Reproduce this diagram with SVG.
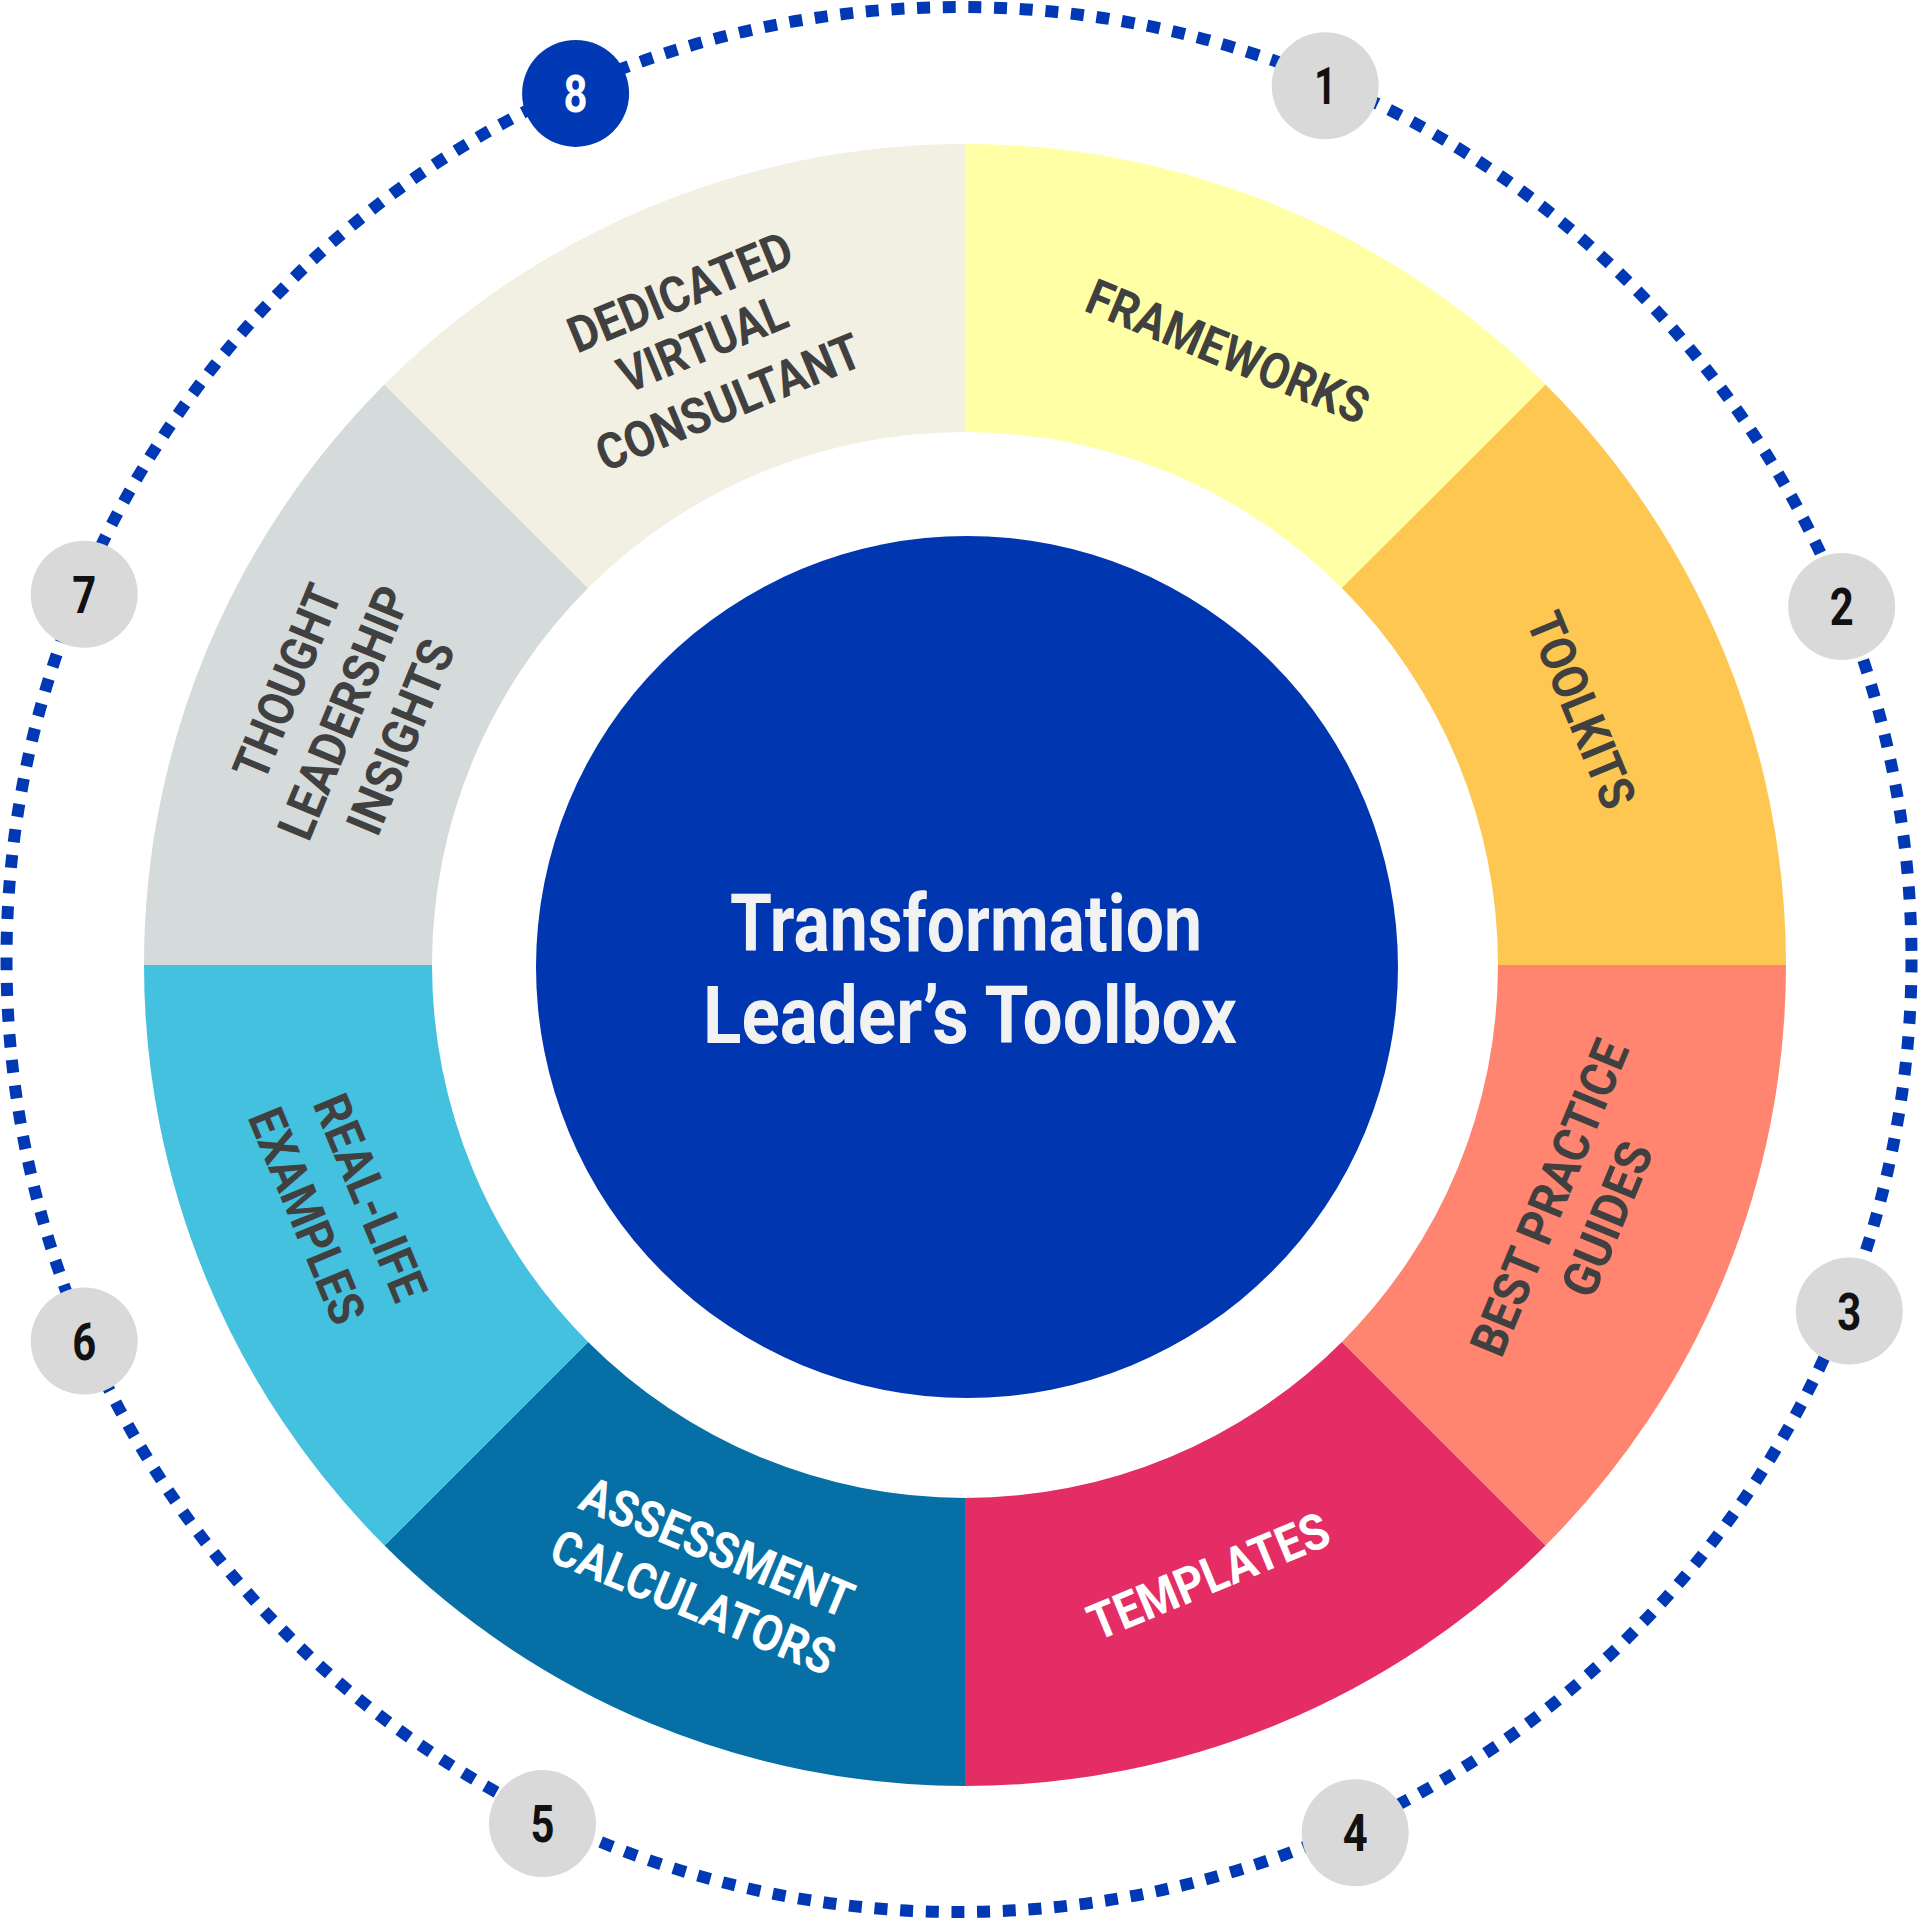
<svg xmlns="http://www.w3.org/2000/svg" width="1920" height="1921" viewBox="0 0 1920 1921">
<style>
.lbl{font-family:Roboto,"Liberation Sans",sans-serif;font-weight:700;font-size:50px;text-anchor:middle;fill:#404040}
.w{fill:#ffffff}
.ttl{font-family:Roboto,"Liberation Sans",sans-serif;font-weight:700;font-size:80px;text-anchor:middle;fill:#f2f2f2}
.bdg{fill:#d9d9d9}
.num{font-family:Roboto,"Liberation Sans",sans-serif;font-weight:700;font-size:52px;text-anchor:middle;fill:#111111}
</style>
<rect width="1920" height="1921" fill="#ffffff"/>
<g id="connectors">
<circle cx="959" cy="959.5" r="952.5" fill="none" stroke="#0039b3" stroke-width="12" stroke-dasharray="13 12.7"/>
</g>
<g id="seg-frameworks">
<path d="M965 144 A821 821 0 0 1 1545.53 384.47 L1341.89 588.11 A533 533 0 0 0 965 432 Z" fill="#ffffa6"/>
<text class="lbl" transform="translate(1228 351) rotate(22.5)" y="18" textLength="300" lengthAdjust="spacingAndGlyphs">FRAMEWORKS</text>
</g>
<g id="seg-toolkits">
<path d="M1545.53 384.47 A821 821 0 0 1 1786 965 L1498 965 A533 533 0 0 0 1341.89 588.11 Z" fill="#fec751"/>
<text class="lbl" transform="translate(1582 710) rotate(67.5)" y="18" textLength="207" lengthAdjust="spacingAndGlyphs">TOOLKITS</text>
</g>
<g id="seg-best-practice">
<path d="M1786 965 A821 821 0 0 1 1545.53 1545.53 L1341.89 1341.89 A533 533 0 0 0 1498 965 Z" fill="#ff8570"/>
<text class="lbl" transform="translate(1549 1197.5) rotate(-67.5)" y="18" textLength="336" lengthAdjust="spacingAndGlyphs">BEST PRACTICE</text>
<text class="lbl" transform="translate(1606.7 1219) rotate(-67.5)" y="18" textLength="162" lengthAdjust="spacingAndGlyphs">GUIDES</text>
</g>
<g id="seg-templates">
<path d="M1545.53 1545.53 A821 821 0 0 1 965 1786 L965 1498 A533 533 0 0 0 1341.89 1341.89 Z" fill="#e32d64"/>
<text class="lbl w" transform="translate(1208.3 1575.7) rotate(-22.5)" y="18" textLength="256" lengthAdjust="spacingAndGlyphs">TEMPLATES</text>
</g>
<g id="seg-assessment">
<path d="M965 1786 A821 821 0 0 1 384.47 1545.53 L588.11 1341.89 A533 533 0 0 0 965 1498 Z" fill="#0670a6"/>
<text class="lbl w" transform="translate(717.3 1546.7) rotate(22.5)" y="18" textLength="290" lengthAdjust="spacingAndGlyphs">ASSESSMENT</text>
<text class="lbl w" transform="translate(693.3 1601.7) rotate(22.5)" y="18" textLength="302" lengthAdjust="spacingAndGlyphs">CALCULATORS</text>
</g>
<g id="seg-real-life">
<path d="M384.47 1545.53 A821 821 0 0 1 144 965 L432 965 A533 533 0 0 0 588.11 1341.89 Z" fill="#45c1e0"/>
<text class="lbl" transform="translate(370.7 1197.3) rotate(67.5)" y="18" textLength="218" lengthAdjust="spacingAndGlyphs">REAL-LIFE</text>
<text class="lbl" transform="translate(307.5 1215.8) rotate(67.5)" y="18" textLength="228" lengthAdjust="spacingAndGlyphs">EXAMPLES</text>
</g>
<g id="seg-thought-leadership">
<path d="M144 965 A821 821 0 0 1 384.47 384.47 L588.11 588.11 A533 533 0 0 0 432 965 Z" fill="#d5dadb"/>
<text class="lbl" transform="translate(286.7 681.7) rotate(-67.5)" y="18" textLength="205" lengthAdjust="spacingAndGlyphs">THOUGHT</text>
<text class="lbl" transform="translate(343.3 712.5) rotate(-67.5)" y="18" textLength="268" lengthAdjust="spacingAndGlyphs">LEADERSHIP</text>
<text class="lbl" transform="translate(400 736.7) rotate(-67.5)" y="18" textLength="205" lengthAdjust="spacingAndGlyphs">INSIGHTS</text>
</g>
<g id="seg-dedicated">
<path d="M384.47 384.47 A821 821 0 0 1 965 144 L965 432 A533 533 0 0 0 588.11 588.11 Z" fill="#f2efe3"/>
<text class="lbl" transform="translate(680 291.7) rotate(-22.5)" y="18" textLength="238" lengthAdjust="spacingAndGlyphs">DEDICATED</text>
<text class="lbl" transform="translate(702.3 343.3) rotate(-22.5)" y="18" textLength="178" lengthAdjust="spacingAndGlyphs">VIRTUAL</text>
<text class="lbl" transform="translate(728.3 401.7) rotate(-22.5)" y="18" textLength="282" lengthAdjust="spacingAndGlyphs">CONSULTANT</text>
</g>
<g id="center">
<circle cx="967" cy="967" r="431" fill="#0037b1"/>
<text class="ttl" x="966" y="951" textLength="472" lengthAdjust="spacingAndGlyphs">Transformation</text>
<text class="ttl" x="970" y="1043" textLength="534" lengthAdjust="spacingAndGlyphs">Leader’s Toolbox</text>
</g>
<g id="badge-1"><circle class="bdg" cx="1325.2" cy="85.7" r="53.5"/><text class="num" x="1325.2" y="104.2" textLength="22" lengthAdjust="spacingAndGlyphs">1</text></g>
<g id="badge-2"><circle class="bdg" cx="1841.7" cy="606.5" r="53.5"/><text class="num" x="1841.7" y="625" textLength="24" lengthAdjust="spacingAndGlyphs">2</text></g>
<g id="badge-3"><circle class="bdg" cx="1849.3" cy="1311.1" r="53.5"/><text class="num" x="1849.3" y="1329.6" textLength="24" lengthAdjust="spacingAndGlyphs">3</text></g>
<g id="badge-4"><circle class="bdg" cx="1355.2" cy="1832.8" r="53.5"/><text class="num" x="1355.2" y="1851.3" textLength="25" lengthAdjust="spacingAndGlyphs">4</text></g>
<g id="badge-5"><circle class="bdg" cx="542.5" cy="1823.6" r="53.5"/><text class="num" x="542.5" y="1842.1" textLength="24" lengthAdjust="spacingAndGlyphs">5</text></g>
<g id="badge-6"><circle class="bdg" cx="84.2" cy="1341.1" r="53.5"/><text class="num" x="84.2" y="1359.6" textLength="24" lengthAdjust="spacingAndGlyphs">6</text></g>
<g id="badge-7"><circle class="bdg" cx="84.2" cy="594.2" r="53.5"/><text class="num" x="84.2" y="612.7" textLength="24" lengthAdjust="spacingAndGlyphs">7</text></g>
<g id="badge-8"><circle cx="575.6" cy="93.4" r="53.5" fill="#0039b3"/><text class="num" x="575.6" y="111.9" textLength="24" lengthAdjust="spacingAndGlyphs" style="fill:#ffffff">8</text></g>
</svg>
